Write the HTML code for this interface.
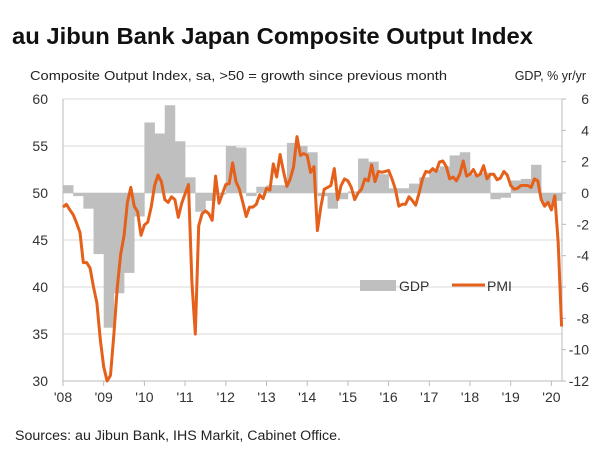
<!DOCTYPE html>
<html><head><meta charset="utf-8"><style>
body{margin:0;background:#fff;font-family:"Liberation Sans",sans-serif;}
svg{display:block}
</style></head><body>
<svg id="chart" width="600" height="463">
<text x="12" y="44" font-size="23" font-weight="bold" fill="#111" textLength="521" lengthAdjust="spacingAndGlyphs">au Jibun Bank Japan Composite Output Index</text>
<text x="30" y="80" font-size="12.5" fill="#222" textLength="417" lengthAdjust="spacingAndGlyphs">Composite Output Index, sa, &gt;50 = growth since previous month</text>
<text x="586" y="80" font-size="12.5" fill="#222" text-anchor="end">GDP, % yr/yr</text>
<text x="15" y="440" font-size="13.5" fill="#222" textLength="326" lengthAdjust="spacingAndGlyphs">Sources: au Jibun Bank, IHS Markit, Cabinet Office.</text>
<g id="grid"></g><g id="bars"></g><g id="axes"></g><g id="line"></g>
<g>
<rect x="360" y="280" width="36" height="11" fill="#bfbfbf"/>
<text x="399" y="291" font-size="14" fill="#333">GDP</text>
<line x1="452" y1="285" x2="485" y2="285" stroke="#e5601a" stroke-width="3"/>
<text x="487" y="291" font-size="14" fill="#333">PMI</text>
</g>
</svg>
<script>
const yearLabels=["'08","'09","'10","'11","'12","'13","'14","'15","'16","'17","'18","'19","'20"];
const leftTicks=[30,35,40,45,50,55,60];
const rightTicks=[-12,-10,-8,-6,-4,-2,0,2,4,6];
const gdp=[0.5,-0.2,-1.0,-3.9, -8.6,-6.4,-5.1,-1.5, 4.5,3.8,5.6,3.3, 1.0,-1.2,-0.5,-0.1, 3.0,2.9,-0.2,0.4, 0.5,0.5,3.2,3.0, 2.6,-0.2,-1.0,-0.4, 0.1,2.2,2.0,1.2, 0.3,0.3,0.6,1.0, 1.5,1.7,2.4,2.6, 1.2,1.3,-0.4,-0.3, 0.8,0.9,1.8,-0.7, -0.5];
const pmi=[48.5,48.8,48.2,47.7,46.8,45.8,42.6,42.6,42.0,40.0,38.3,34.4,
31.5,30.0,30.6,35.0,40.0,43.5,45.5,49.0,50.6,48.6,48.0,45.5,
46.6,46.9,48.5,50.8,51.9,51.2,49.3,49.0,49.6,49.3,47.4,48.9,
49.9,50.9,40.5,35.0,46.5,47.8,48.1,47.8,47.1,51.8,48.9,49.9,
50.9,51.0,53.2,51.2,50.4,49.0,47.5,48.5,48.5,48.8,49.8,49.4,
50.5,50.3,53.1,51.7,54.1,52.3,50.7,51.5,52.8,56.0,54.0,54.2,
54.0,52.2,52.8,46.0,48.5,50.4,50.6,50.8,52.6,49.3,50.8,51.5,
51.3,50.6,49.3,50.0,50.4,51.5,51.3,53.0,51.2,52.3,52.2,52.3,
52.4,51.5,50.4,48.6,48.8,48.8,49.6,49.2,48.7,50.0,51.5,52.3,
52.2,52.6,52.3,53.3,53.4,52.8,51.5,51.7,51.3,52.0,53.4,51.8,
52.0,52.5,51.8,52.0,52.9,51.5,52.0,52.0,51.4,51.6,52.3,51.9,
50.8,50.4,50.5,50.8,50.8,50.8,50.6,51.5,51.3,49.3,48.6,49.0,
48.2,49.7,44.7,35.8];
const X0=63,X1=562,YT=99,YB=381,MW=40.7/12;
const xm=m=>X0+m*MW;
const yl=v=>YT+(60-v)*(YB-YT)/30;
const yr=v=>YT+(6-v)*(YB-YT)/18;
const NS="http://www.w3.org/2000/svg";
function mk(tag,parent,attrs){const e=document.createElementNS(NS,tag);for(const k in attrs)e.setAttribute(k,attrs[k]);document.getElementById(parent).appendChild(e);return e;}
leftTicks.forEach(v=>{
 if(v>30){const g=mk('line','grid',{x1:X0,x2:X1,y1:yl(v),y2:yl(v),stroke:'#d9d9d9','stroke-width':1});
 
 }
 const t=mk('text','axes',{x:48,y:yl(v)+5,'font-size':14,fill:'#333','text-anchor':'end'});t.textContent=v;
 
 
});
rightTicks.forEach(v=>{
 const t=mk('text','axes',{x:589,y:yr(v)+5,'font-size':14,fill:'#333','text-anchor':'end'});t.textContent=v;
 
 
 const k=mk('line','axes',{x1:X1,x2:X1+4,y1:yr(v),y2:yr(v),stroke:'#bbb'});
 
 
});
gdp.forEach((v,i)=>{
 const y0=yr(0),y1=yr(v);
 const r=mk('rect','bars',{x:xm(i*3),width:MW*3+0.3,y:Math.min(y0,y1),height:Math.abs(y1-y0),fill:'#bfbfbf'});
 
 
});
const la=mk('line','axes',{x1:X0,x2:X0,y1:YT,y2:YB,stroke:'#bbb'});


const ra=mk('line','axes',{x1:X1,x2:X1,y1:YT,y2:YB,stroke:'#bbb'});


const xa=mk('line','axes',{x1:X0,x2:X1,y1:YB,y2:YB,stroke:'#bbb'});


yearLabels.forEach((s,i)=>{
 const x=xm(i*12);
 const k=mk('line','axes',{x1:x,x2:x,y1:YB,y2:YB+5,stroke:'#bbb'});
 
 
 const t=mk('text','axes',{x:x,y:YB+21,'font-size':14,fill:'#333','text-anchor':'middle'});t.textContent=s;
 
 
});
const p=mk('polyline','line',{points:pmi.map((v,i)=>xm(i).toFixed(1)+','+yl(v).toFixed(1)).join(' '),fill:'none',stroke:'#e5601a','stroke-width':3,'stroke-linejoin':'round'});


</script>
</body></html>
